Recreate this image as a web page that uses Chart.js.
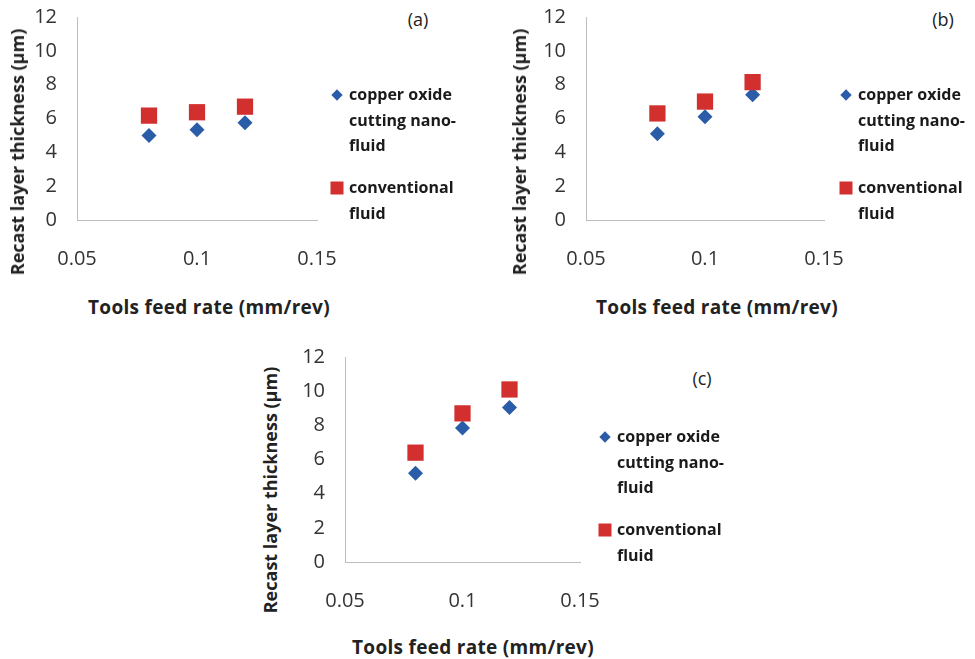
<!DOCTYPE html>
<html>
<head>
<meta charset="utf-8">
<script src="https://cdn.jsdelivr.net/npm/chart.js@4.4.1/dist/chart.umd.min.js"></script>
<style>
  body { margin: 0; background: #fff; width: 975px; height: 659px; position: relative; overflow: hidden; font-family: 'Open Sans', Lato, sans-serif; }
  canvas { position: absolute; }
  .t { position: absolute; white-space: nowrap; color: #222; }
  .xt { font-weight: bold; font-size: 19px; letter-spacing: 0.3px; transform: translate(-50%, -50%); }
  .yt { font-weight: bold; font-size: 18px; transform: translate(-50%, -50%) rotate(-90deg); }
  .pl { font-size: 18px; transform: translate(-50%, -50%); color: #222; }
  .leg { position: absolute; font-weight: bold; font-size: 16px; line-height: 25.5px; color: #1a1a1a; }
  .mk { position: absolute; }
  .dia { width: 8px; height: 8px; background: #2a5ca8; transform: translate(-50%, -50%) rotate(45deg); }
  .sq { width: 13px; height: 13px; background: #d22f2f; transform: translate(-50%, -50%); }
</style>
</head>
<body>
<canvas id="chart-a" width="320" height="290" style="left:20px;top:0px"></canvas>
<canvas id="chart-b" width="316" height="290" style="left:530px;top:0px"></canvas>
<canvas id="chart-c" width="318" height="290" style="left:285px;top:340px"></canvas>
<div id="labels"></div>
<script>
const FEED_RATE = [0.08, 0.1, 0.12];
const NANO_A = [5.0, 5.33, 5.75];
const CONV_A = [6.17, 6.37, 6.7];
const NANO_B = [5.1, 6.1, 7.4];
const CONV_B = [6.3, 7.0, 8.15];
const NANO_C = [5.2, 7.85, 9.05];
const CONV_C = [6.4, 8.7, 10.1];
const X_TICKS = [0.05, 0.1, 0.15];
const Y_TICKS = [0, 2, 4, 6, 8, 10, 12];
const SERIES_NAMES = ['copper oxide cutting nano-fluid', 'conventional fluid'];
const LEGEND_LINES = [['copper oxide', 'cutting nano-', 'fluid'], ['conventional', 'fluid']];
const X_TITLE = 'Tools feed rate (mm/rev)';
const Y_TITLE = 'Recast layer thickness (µm)';

const BLUE = '#2a5ca8';
const RED = '#d22f2f';
const AXIS = '#bdbdbd';
const TICK_FONT = { family: 'Open Sans', size: 20 };

function pts(ys) {
    return FEED_RATE.map((x, i) => ({ x, y: ys[i] }));
}

// box = canvas rect on page, area = wanted plot area on page
function makeChart(id, box, area, nano, conv) {
    return new Chart(document.getElementById(id), {
        type: 'scatter',
        data: {
            datasets: [
                { label: SERIES_NAMES[0], data: pts(nano), pointStyle: 'rectRot', pointRadius: 7.5,
                  backgroundColor: BLUE, borderColor: BLUE, borderWidth: 0, order: 2 },
                { label: SERIES_NAMES[1], data: pts(conv), pointStyle: 'rect', pointRadius: 11.5,
                  backgroundColor: RED, borderColor: RED, borderWidth: 0, order: 1 },
            ],
        },
        options: {
            responsive: false,
            animation: false,
            layout: { padding: { top: area.t - box.top, right: box.left + box.w - area.r, bottom: 0, left: 0 } },
            plugins: { legend: { display: false }, tooltip: { enabled: false } },
            scales: {
                x: {
                    type: 'linear', min: X_TICKS[0], max: X_TICKS[X_TICKS.length - 1],
                    afterBuildTicks: s => { s.ticks = X_TICKS.map(v => ({ value: v })); },
                    // pin the plot area: drop the label overflow padding
                    afterFit: s => { s.height = box.top + box.h - area.b; s.paddingLeft = 0; s.paddingRight = 0; },
                    ticks: { color: '#333', font: TICK_FONT, padding: 27, maxRotation: 0, callback: v => String(v) },
                    grid: { display: false, drawTicks: false },
                    border: { display: true, color: AXIS, width: 1 },
                },
                y: {
                    min: 0, max: 12,
                    afterBuildTicks: s => { s.ticks = Y_TICKS.map(v => ({ value: v })); },
                    afterFit: s => { s.width = area.l - box.left; s.paddingTop = 0; s.paddingBottom = 0; },
                    ticks: { color: '#333', font: TICK_FONT, padding: 20 },
                    grid: { display: false, drawTicks: false },
                    border: { display: true, color: AXIS, width: 1 },
                },
            },
        },
    });
}

makeChart('chart-a', { left: 20, top: 0, w: 320, h: 290 }, { l: 77, t: 17, r: 317, b: 220 }, NANO_A, CONV_A);
makeChart('chart-b', { left: 530, top: 0, w: 316, h: 290 }, { l: 586, t: 17, r: 824, b: 220 }, NANO_B, CONV_B);
makeChart('chart-c', { left: 285, top: 340, w: 318, h: 290 }, { l: 345, t: 357, r: 580, b: 562 }, NANO_C, CONV_C);

// titles, panel letters and legends as HTML text
const PANELS = [
    { tag: '(a)', tagXY: [418, 19], xt: [209, 307], yt: [17, 152], leg: [337, 95, 188] },
    { tag: '(b)', tagXY: [943, 19], xt: [717, 307], yt: [519, 152], leg: [846, 95, 188] },
    { tag: '(c)', tagXY: [702, 378], xt: [473, 647], yt: [270, 490], leg: [605, 437, 530] },
];

const host = document.getElementById('labels');
function add(cls, x, y, html) {
    const d = document.createElement('div');
    d.className = cls;
    d.style.left = x + 'px';
    d.style.top = y + 'px';
    d.innerHTML = html;
    host.appendChild(d);
}
PANELS.forEach(p => {
    add('t pl', p.tagXY[0], p.tagXY[1], p.tag);
    add('t xt', p.xt[0], p.xt[1], X_TITLE);
    add('t yt', p.yt[0], p.yt[1], Y_TITLE);
    const [mx, y1, y2] = p.leg;
    add('mk dia', mx, y1, '');
    add('mk sq', mx, y2, '');
    add('leg', mx + 12, y1 - 13, LEGEND_LINES[0].join('<br>'));
    add('leg', mx + 12, y2 - 13, LEGEND_LINES[1].join('<br>'));
});
</script>
</body>
</html>
